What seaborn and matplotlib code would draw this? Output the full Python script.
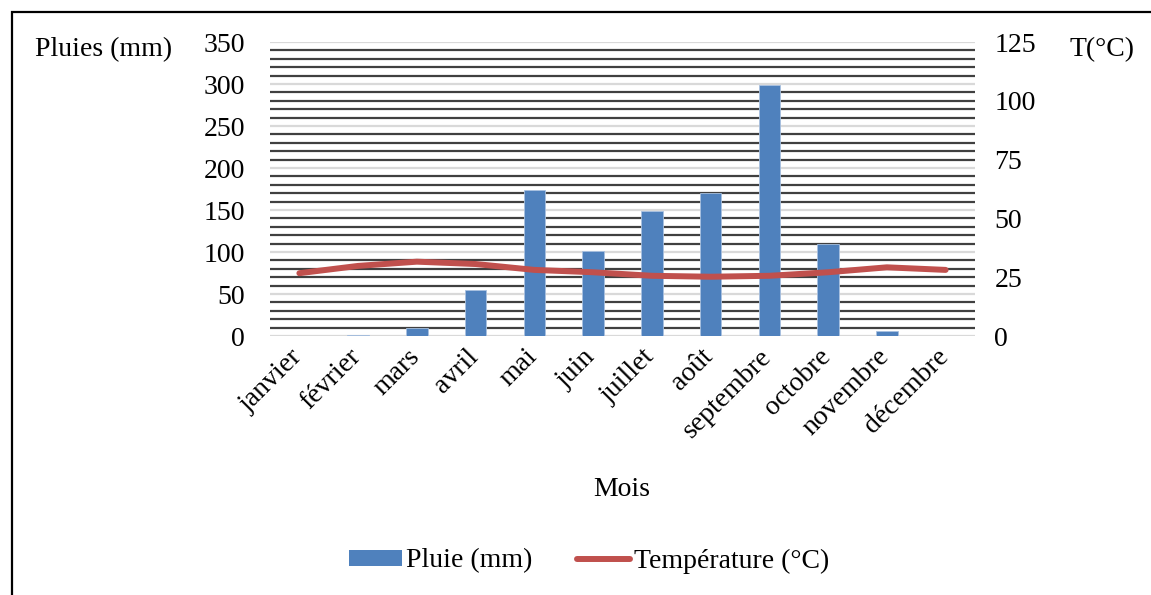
import numpy as np
import pandas as pd
import matplotlib.pyplot as plt
import matplotlib.transforms as mtransforms
import seaborn as sns
from matplotlib.patches import Rectangle, Patch
from matplotlib.lines import Line2D

# Data
mois = ['janvier', 'février', 'mars', 'avril', 'mai', 'juin', 'juillet',
        'août', 'septembre', 'octobre', 'novembre', 'décembre']
pluie = [0, 1, 10, 55, 174, 101, 149, 170, 299, 110, 6, 0]
temperature = [26.7, 29.8, 31.6, 30.6, 28.1, 27.1, 25.6, 25.2, 25.6, 27.1, 29.2, 28.1]

pluie_ticks = list(range(0, 351, 50))
temp_ticks = list(range(0, 126, 25))

BLUE = '#4F81BD'
RED = '#C0504D'

sns.set_style('white')
plt.rcParams['font.family'] = ['Liberation Serif', 'DejaVu Serif']
plt.rcParams['text.color'] = 'black'
plt.rcParams['xtick.color'] = 'black'
plt.rcParams['ytick.color'] = 'black'
FS = 20

df = pd.DataFrame({'Mois': mois, 'Pluie': pluie, 'pos': np.arange(len(mois)),
                   'Temp': temperature})

fig = plt.figure(figsize=(11.51, 5.95), dpi=100)
ax = fig.add_axes([270 / 1151, 1 - 336 / 595, 705 / 1151, 294 / 595])

sns.barplot(ax=ax, data=df, x='Mois', y='Pluie', color=BLUE, width=0.37,
            saturation=1, edgecolor='#a9c1e0', linewidth=0.6, zorder=3)
ax.set_ylim(0, 350)
ax.set_xlim(-0.5, len(mois) - 0.5)
ax.set_yticks(pluie_ticks)
ax.set_yticks([v for v in range(0, 351, 10) if v % 50 != 0], minor=True)
ax.grid(which='major', axis='y', color='#d9d9d9', linewidth=1.6, zorder=0)
ax.grid(which='minor', axis='y', color='#404040', linewidth=1.6, zorder=0)
ax.grid(axis='x', visible=False)
ax.set_axisbelow(True)
ax.tick_params(axis='y', which='both', length=0, labelsize=FS, pad=18)
ax.tick_params(axis='x', length=0, labelsize=FS, pad=6)
shift = mtransforms.ScaledTranslation(-10 / 100, 0, fig.dpi_scale_trans)
for lab in ax.get_xticklabels():
    lab.set_rotation(45)
    lab.set_ha('right')
    lab.set_rotation_mode('anchor')
    lab.set_transform(lab.get_transform() + shift)
ax.set_xlabel('')
ax.set_ylabel('')
for s in ax.spines.values():
    s.set_visible(False)

ax2 = ax.twinx()
sns.lineplot(ax=ax2, data=df, x='pos', y='Temp', color=RED, linewidth=4.3,
             solid_capstyle='round')
ax2.set_ylim(0, 125)
ax2.set_yticks(temp_ticks)
ax2.tick_params(axis='y', length=0, labelsize=FS, pad=14)
ax2.set_ylabel('')
ax2.grid(False)
for s in ax2.spines.values():
    s.set_visible(False)

fig.text(35 / 1151, 1 - 50 / 595, 'Pluies (mm)', fontsize=FS, va='center', ha='left')
fig.text(1070 / 1151, 1 - 50 / 595, 'T(°C)', fontsize=FS, va='center', ha='left')
fig.text(622 / 1151, 1 - 489 / 595, 'Mois', fontsize=FS, va='center', ha='center')

handles = [Patch(facecolor=BLUE, edgecolor='none'),
           Line2D([0], [0], color=RED, linewidth=4.3, solid_capstyle='round')]
fig.legend(handles, ['Pluie (mm)', 'Température (°C)'], loc='center',
           bbox_to_anchor=(589 / 1151, 1 - 561 / 595), ncol=2, frameon=False,
           fontsize=FS, handlelength=1.9, handleheight=0.5, handletextpad=0.15,
           columnspacing=1.6)

fig.add_artist(Rectangle((12 / 1151, -0.05), 1.1, 1.05 - 12 / 595,
                         transform=fig.transFigure, fill=False,
                         edgecolor='black', linewidth=1.6, clip_on=False))

plt.savefig('out.png', dpi=100)
